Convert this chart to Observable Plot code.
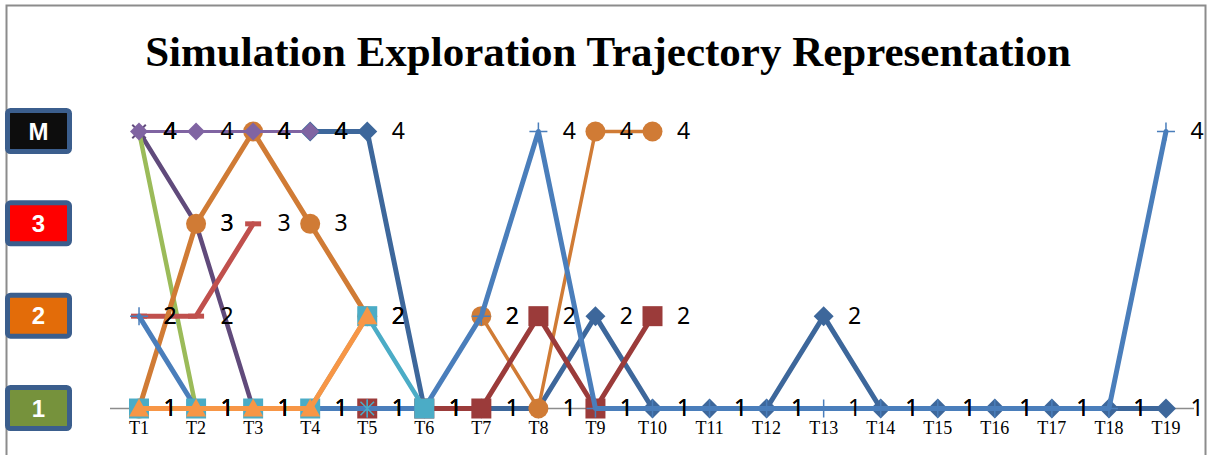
<!DOCTYPE html>
<html><head><meta charset="utf-8">
<script src="https://cdn.jsdelivr.net/npm/d3@7"></script>
<script src="https://cdn.jsdelivr.net/npm/@observablehq/plot@0.6"></script>
<style>body{margin:0;background:#fff} svg{display:block}</style>
</head><body><div id="chart"></div>
<script>
// ---------- data ----------
const chartTitle = "Simulation Exploration Trajectory Representation";
const tickLabels = ["T1","T2","T3","T4","T5","T6","T7","T8","T9","T10","T11","T12","T13","T14","T15","T16","T17","T18","T19"];
const levels = [1, 2, 3, 4];
const levelLabels = ["1", "2", "3", "M"];

const trajDarkBlue   = [null,null,null,4,4,1,1,1,2,1,1,1,2,1,1,1,1,1,1];
const trajDarkPurple = [4,3,1,null,null,null,null,null,null,null,null,null,null,null,null,null,null,null,null];
const trajGreen      = [4,1,null,null,null,null,null,null,null,null,null,null,null,null,null,null,null,null,null];
const trajRed        = [2,2,3,null,null,null,null,null,null,null,null,null,null,null,null,null,null,null,null];
const trajOrangeA    = [1,3,4,3,2,null,null,null,null,null,null,null,null,null,null,null,null,null,null];
const trajOrangeB    = [null,null,null,null,null,null,2,1,4,4,null,null,null,null,null,null,null,null,null];
const trajPurple     = [4,4,4,4,null,null,null,null,null,null,null,null,null,null,null,null,null,null,null];
const trajDarkRed    = [null,null,null,null,1,1,1,2,1,2,null,null,null,null,null,null,null,null,null];
const trajBlue       = [2,1,1,1,1,1,2,4,1,1,1,1,1,1,1,1,1,1,4];
const trajAqua       = [1,1,1,1,2,1,null,null,null,null,null,null,null,null,null,null,null,null,null];
const trajLightOrange= [1,1,1,1,2,null,null,null,null,null,null,null,null,null,null,null,null,null,null];
const trajStar       = [null,null,null,null,1,null,null,null,null,null,null,null,null,null,null,null,null,null,null];

const series = [
  {name: "darkBlue", values: trajDarkBlue},
  {name: "darkPurple", values: trajDarkPurple},
  {name: "green", values: trajGreen},
  {name: "red", values: trajRed},
  {name: "orangeA", values: trajOrangeA},
  {name: "orangeB", values: trajOrangeB},
  {name: "purple", values: trajPurple},
  {name: "darkRed", values: trajDarkRed},
  {name: "blue", values: trajBlue},
  {name: "aqua", values: trajAqua},
  {name: "lightOrange", values: trajLightOrange},
  {name: "star", values: trajStar}
];

// ---------- styles ----------
const rOf = s => Math.sqrt(s / Math.PI);
const sym = {
  diamond: {draw(c, s) { const r = rOf(s); c.moveTo(0, -r); c.lineTo(r, 0); c.lineTo(0, r); c.lineTo(-r, 0); c.closePath(); }},
  square: {draw(c, s) { const r = rOf(s); c.rect(-r, -r, 2 * r, 2 * r); }},
  triangle: {draw(c, s) { const r = rOf(s); c.moveTo(0, -r); c.lineTo(r, r * 0.8); c.lineTo(-r, r * 0.8); c.closePath(); }},
  circle: {draw(c, s) { const r = rOf(s); c.moveTo(r, 0); c.arc(0, 0, r, 0, 2 * Math.PI); }},
  plus: {draw(c, s) { const r = rOf(s); c.moveTo(-r, 0); c.lineTo(r, 0); c.moveTo(0, -r); c.lineTo(0, r); }},
  times: {draw(c, s) { const r = rOf(s) * 0.75; c.moveTo(-r, -r); c.lineTo(r, r); c.moveTo(-r, r); c.lineTo(r, -r); }},
  dash: {draw(c, s) { const r = rOf(s); c.moveTo(-r, 0); c.lineTo(r, 0); }},
  asterisk: {draw(c, s) { const r = rOf(s) * 0.75; c.moveTo(-r, -r); c.lineTo(r, r); c.moveTo(-r, r); c.lineTo(r, -r); c.moveTo(0, -rOf(s)); c.lineTo(0, rOf(s)); }}
};
const style = {
  darkBlue:    {color: "#3D679B", width: 5,   symbol: "diamond", r: 10, filled: true},
  darkPurple:  {color: "#604A7B", width: 4.5, symbol: "times", r: 9, filled: false, mw: 2},
  green:       {color: "#9BBB59", width: 4.5, symbol: null},
  red:         {color: "#C0504D", width: 5,   symbol: "dash", r: 8, filled: false, mw: 5},
  orangeA:     {color: "#D07B35", width: 5,   symbol: "circle", r: 10, filled: true},
  orangeB:     {color: "#D07B35", width: 3.5, symbol: "circle", r: 10, filled: true},
  purple:      {color: "#8064A2", width: 3,   symbol: "diamond", r: 9, filled: true},
  darkRed:     {color: "#9B3B3A", width: 5,   symbol: "square", r: 10, filled: true},
  blue:        {color: "#4A7EBB", width: 5,   symbol: "plus", r: 9, filled: false, mw: 1.5},
  aqua:        {color: "#4BACC6", width: 4.5, symbol: "square", r: 10, filled: true},
  lightOrange: {color: "#F79646", width: 5,   symbol: "triangle", r: 10, filled: true},
  star:        {color: "#4BACC6", width: 0,   symbol: "asterisk", r: 9, filled: false, mw: 1.5}
};

// ---------- table ----------
const points = [];
series.forEach(s => s.values.forEach((v, i) => { if (v != null) points.push({series: s.name, t: i + 1, v}); }));

const marks = [Plot.ruleY([1], {stroke: "#8C8C8C", strokeWidth: 1.5})];
for (const s of series) {
  const st = style[s.name];
  const data = points.filter(d => d.series === s.name);
  if (st.width > 0) marks.push(Plot.line(data, {x: "t", y: "v", stroke: st.color, strokeWidth: st.width, strokeLinejoin: "round", strokeLinecap: "round", curve: "linear"}));
  if (st.symbol) {
    marks.push(Plot.dot(data, st.filled
      ? {x: "t", y: "v", symbol: sym[st.symbol], r: st.r, fill: st.color, stroke: "none"}
      : {x: "t", y: "v", symbol: sym[st.symbol], r: st.r, fill: "none", stroke: st.color, strokeWidth: st.mw}));
  }
}
marks.push(Plot.text(points, {x: "t", y: "v", text: d => String(d.v), dx: 31, fontSize: 23, fontFamily: "Noto Sans", fill: "#000"}));
marks.push(Plot.axisX({ticks: tickLabels.map((d, i) => i + 1), tickFormat: i => tickLabels[i - 1], tickSize: 0, tickPadding: 13, fontSize: 18, fontFamily: "Liberation Serif", fill: "#000", label: null}));

const W = 1211, H = 455;
const plot = Plot.plot({
  width: W, height: H,
  marginLeft: 110, marginRight: 17, marginTop: 131, marginBottom: 47,
  x: {domain: [0.5, 19.5], axis: null},
  y: {domain: [1, 4], axis: null},
  style: {background: "#fff", overflow: "visible"},
  marks
});
document.getElementById("chart").appendChild(plot);

// ---------- decorations ----------
const svg = d3.select(plot);
const yS = plot.scale("y");
svg.insert("rect", ":first-child").attr("x", 6.5).attr("y", 5.5).attr("width", 1199).attr("height", 470)
  .attr("fill", "none").attr("stroke", "#8C8C8C").attr("stroke-width", 2);
svg.append("text").attr("x", 608).attr("y", 66).attr("text-anchor", "middle")
  .attr("font-family", "Liberation Serif").attr("font-weight", "bold").attr("font-size", 43).attr("fill", "#000")
  .text(chartTitle);
const boxFill = ["#76923C", "#E36C09", "#FF0000", "#0D0D0D"];
levels.forEach((lv, i) => {
  const cy = yS.apply(lv);
  svg.append("rect").attr("x", 7.5).attr("y", cy - 20.5).attr("width", 62).attr("height", 41).attr("rx", 3)
    .attr("fill", boxFill[i]).attr("stroke", "#3B5E8D").attr("stroke-width", 5);
  svg.append("text").attr("x", 38.5).attr("y", cy).attr("dy", "0.36em").attr("text-anchor", "middle")
    .attr("font-family", "Liberation Sans").attr("font-weight", "bold").attr("font-size", 24).attr("fill", "#fff")
    .text(levelLabels[i]);
});
</script>
</body></html>
